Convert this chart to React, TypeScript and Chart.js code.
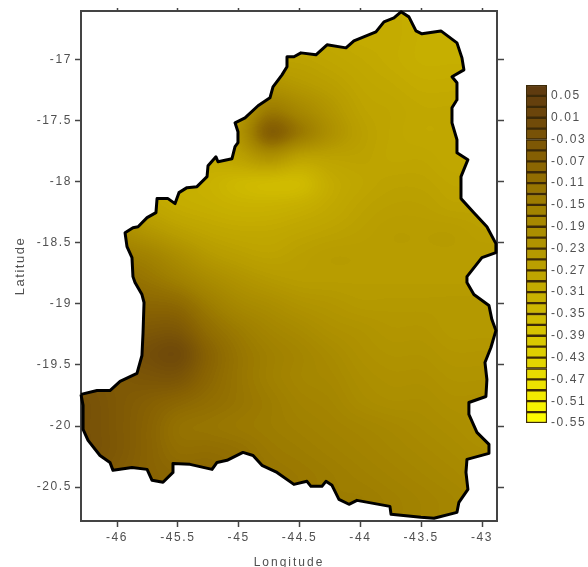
import React, { useEffect, useRef } from "react";
import { Chart, registerables } from "chart.js";

Chart.register(...registerables);

const lonTicks = [-46, -45.5, -45, -44.5, -44, -43.5, -43];
const latTicks = [-17, -17.5, -18, -18.5, -19, -19.5, -20, -20.5];
const legendTicks = [0.05, 0.01, -0.03, -0.07, -0.11, -0.15, -0.19, -0.23, -0.27, -0.31, -0.35, -0.39, -0.43, -0.47, -0.51, -0.55];
const legendEdges = [0.07, 0.05, 0.03, 0.01, -0.01, -0.03, -0.05, -0.07, -0.09, -0.11, -0.13, -0.15, -0.17, -0.19, -0.21, -0.23, -0.25, -0.27, -0.29, -0.31, -0.33, -0.35, -0.37, -0.39, -0.41, -0.43, -0.45, -0.47, -0.49, -0.51, -0.53, -0.55];

const boundaryLon = [-46.296, -46.164, -46.058, -45.975, -45.836, -45.795, -45.786, -45.778, -45.795, -45.852, -45.869, -45.877, -45.918, -45.934, -45.869, -45.827, -45.753, -45.68, -45.671, -45.581, -45.523, -45.491, -45.425, -45.343, -45.26, -45.252, -45.187, -45.17, -45.055, -45.03, -45.006, -45.006, -45.03, -44.948, -44.841, -44.743, -44.718, -44.644, -44.603, -44.603, -44.546, -44.488, -44.365, -44.274, -44.118, -44.053, -43.872, -43.806, -43.724, -43.666, -43.601, -43.543, -43.494, -43.338, -43.206, -43.165, -43.149, -43.247, -43.206, -43.206, -43.247, -43.247, -43.206, -43.206, -43.116, -43.173, -43.173, -43.067, -42.96, -42.886, -42.886, -43.001, -43.124, -43.124, -43.067, -42.943, -42.919, -42.886, -42.927, -42.976, -42.96, -42.968, -43.108, -43.108, -43.042, -42.943, -42.943, -43.124, -43.132, -43.116, -43.19, -43.206, -43.395, -43.502, -43.748, -43.757, -44.028, -44.094, -44.176, -44.233, -44.283, -44.316, -44.406, -44.439, -44.546, -44.685, -44.809, -44.882, -44.965, -45.096, -45.178, -45.219, -45.4, -45.54, -45.54, -45.622, -45.712, -45.753, -45.877, -46.033, -46.058, -46.14, -46.238, -46.279, -46.279, -46.296];
const boundaryLat = [-19.741, -19.709, -19.709, -19.635, -19.569, -19.422, -19.234, -18.988, -18.923, -18.825, -18.776, -18.62, -18.53, -18.416, -18.375, -18.367, -18.293, -18.252, -18.137, -18.137, -18.178, -18.088, -18.047, -18.039, -17.957, -17.867, -17.794, -17.835, -17.81, -17.712, -17.679, -17.589, -17.516, -17.475, -17.376, -17.311, -17.221, -17.123, -17.057, -16.975, -16.975, -16.943, -16.959, -16.877, -16.902, -16.845, -16.771, -16.689, -16.656, -16.607, -16.648, -16.763, -16.787, -16.763, -16.861, -16.984, -17.082, -17.139, -17.188, -17.327, -17.393, -17.516, -17.655, -17.761, -17.818, -17.957, -18.137, -18.252, -18.367, -18.506, -18.579, -18.62, -18.776, -18.825, -18.923, -19.013, -19.128, -19.218, -19.357, -19.479, -19.619, -19.758, -19.807, -19.905, -20.052, -20.15, -20.224, -20.273, -20.38, -20.519, -20.625, -20.707, -20.756, -20.748, -20.723, -20.658, -20.609, -20.641, -20.601, -20.486, -20.453, -20.494, -20.494, -20.453, -20.478, -20.38, -20.322, -20.241, -20.216, -20.281, -20.298, -20.355, -20.314, -20.306, -20.38, -20.461, -20.445, -20.355, -20.339, -20.363, -20.298, -20.241, -20.118, -20.028, -19.831, -19.741];

const fieldLon = [-46.25, -46, -45.75, -45.5, -45.25, -45, -44.75, -44.5, -44.25, -44, -43.75, -43.5, -43.25, -43, -42.75];
const fieldLat = [-16.6, -16.8, -17, -17.2, -17.4, -17.6, -17.8, -18, -18.2, -18.4, -18.6, -18.8, -19, -19.2, -19.4, -19.6, -19.8, -20, -20.2, -20.4, -20.6, -20.8];
const fieldValues = [
  [-0.3, -0.3, -0.3, -0.3, -0.3, -0.3, -0.29, -0.29, -0.29, -0.3, -0.3, -0.31, -0.31, -0.31, -0.31],
  [-0.3, -0.3, -0.3, -0.3, -0.3, -0.29, -0.29, -0.29, -0.29, -0.3, -0.3, -0.31, -0.31, -0.31, -0.31],
  [-0.3, -0.3, -0.3, -0.3, -0.29, -0.27, -0.27, -0.27, -0.28, -0.29, -0.3, -0.31, -0.31, -0.31, -0.31],
  [-0.3, -0.3, -0.3, -0.3, -0.28, -0.24, -0.22, -0.24, -0.26, -0.28, -0.29, -0.3, -0.3, -0.3, -0.3],
  [-0.3, -0.3, -0.3, -0.3, -0.28, -0.24, -0.14, -0.18, -0.23, -0.27, -0.28, -0.29, -0.29, -0.29, -0.29],
  [-0.3, -0.3, -0.3, -0.3, -0.28, -0.22, -0.06, -0.13, -0.21, -0.26, -0.28, -0.29, -0.29, -0.29, -0.29],
  [-0.3, -0.3, -0.3, -0.3, -0.3, -0.27, -0.22, -0.27, -0.27, -0.27, -0.28, -0.28, -0.29, -0.29, -0.29],
  [-0.3, -0.3, -0.3, -0.31, -0.32, -0.34, -0.35, -0.35, -0.3, -0.28, -0.27, -0.27, -0.28, -0.28, -0.28],
  [-0.27, -0.27, -0.28, -0.3, -0.31, -0.32, -0.32, -0.31, -0.29, -0.27, -0.26, -0.26, -0.27, -0.27, -0.27],
  [-0.2, -0.2, -0.23, -0.26, -0.28, -0.29, -0.29, -0.28, -0.27, -0.26, -0.25, -0.25, -0.25, -0.26, -0.26],
  [-0.14, -0.14, -0.16, -0.2, -0.24, -0.26, -0.27, -0.26, -0.25, -0.25, -0.25, -0.25, -0.25, -0.25, -0.25],
  [-0.1, -0.1, -0.12, -0.15, -0.19, -0.22, -0.24, -0.25, -0.25, -0.25, -0.25, -0.25, -0.25, -0.25, -0.25],
  [-0.08, -0.08, -0.08, -0.09, -0.14, -0.18, -0.2, -0.22, -0.23, -0.24, -0.24, -0.24, -0.24, -0.24, -0.24],
  [-0.05, -0.05, -0.04, -0.04, -0.1, -0.14, -0.17, -0.19, -0.21, -0.22, -0.23, -0.23, -0.24, -0.24, -0.24],
  [-0.04, -0.03, -0.01, 0, -0.07, -0.12, -0.15, -0.17, -0.19, -0.21, -0.22, -0.22, -0.23, -0.23, -0.23],
  [-0.03, -0.04, -0.03, -0.03, -0.08, -0.12, -0.15, -0.17, -0.18, -0.2, -0.21, -0.21, -0.22, -0.22, -0.22],
  [-0.02, -0.04, -0.06, -0.08, -0.1, -0.12, -0.14, -0.16, -0.17, -0.19, -0.2, -0.2, -0.21, -0.21, -0.21],
  [-0.02, -0.04, -0.07, -0.11, -0.12, -0.13, -0.14, -0.15, -0.16, -0.17, -0.18, -0.19, -0.2, -0.21, -0.21],
  [-0.02, -0.04, -0.07, -0.1, -0.1, -0.11, -0.13, -0.14, -0.15, -0.16, -0.17, -0.18, -0.19, -0.2, -0.2],
  [-0.03, -0.05, -0.07, -0.08, -0.08, -0.1, -0.12, -0.13, -0.14, -0.15, -0.16, -0.17, -0.18, -0.19, -0.19],
  [-0.03, -0.05, -0.07, -0.08, -0.08, -0.1, -0.12, -0.13, -0.14, -0.14, -0.15, -0.16, -0.17, -0.18, -0.18],
  [-0.03, -0.05, -0.07, -0.08, -0.08, -0.1, -0.12, -0.13, -0.14, -0.14, -0.15, -0.16, -0.17, -0.18, -0.18],
];

const colorStopValues = [0.07, 0.01, -0.07, -0.15, -0.23, -0.31, -0.39, -0.47, -0.55];
const colorStopRgb = [
  [92, 56, 16],
  [110, 72, 10],
  [136, 98, 2],
  [160, 128, 0],
  [178, 150, 0],
  [198, 174, 0],
  [216, 198, 0],
  [234, 222, 0],
  [255, 255, 0],
];

function colorFor(v: number): number[] {
  const n = colorStopValues.length;
  if (v >= colorStopValues[0]) return colorStopRgb[0];
  for (let i = 1; i < n; i++) {
    if (v >= colorStopValues[i]) {
      const t = (colorStopValues[i - 1] - v) / (colorStopValues[i - 1] - colorStopValues[i]);
      const a = colorStopRgb[i - 1];
      const b = colorStopRgb[i];
      return [a[0] + (b[0] - a[0]) * t, a[1] + (b[1] - a[1]) * t, a[2] + (b[2] - a[2]) * t];
    }
  }
  return colorStopRgb[n - 1];
}

function cubic(p0: number, p1: number, p2: number, p3: number, t: number) {
  return p1 + 0.5 * t * (p2 - p0 + t * (2 * p0 - 5 * p1 + 4 * p2 - p3 + t * (3 * (p1 - p2) + p3 - p0)));
}

function sampleField(lon: number, lat: number) {
  const fx = Math.max(0, Math.min(fieldLon.length - 1.001, (lon - fieldLon[0]) / (fieldLon[1] - fieldLon[0])));
  const fy = Math.max(0, Math.min(fieldLat.length - 1.001, (lat - fieldLat[0]) / (fieldLat[1] - fieldLat[0])));
  const ix = Math.floor(fx);
  const iy = Math.floor(fy);
  const cell = (r: number, c: number) =>
    fieldValues[Math.max(0, Math.min(fieldLat.length - 1, r))][Math.max(0, Math.min(fieldLon.length - 1, c))];
  const col: number[] = [];
  for (let k = -1; k <= 2; k++) {
    col.push(cubic(cell(iy + k, ix - 1), cell(iy + k, ix), cell(iy + k, ix + 1), cell(iy + k, ix + 2), fx - ix));
  }
  return cubic(col[0], col[1], col[2], col[3], fy - iy);
}

const fieldPlugin = {
  id: "field",
  beforeDatasetsDraw(chart: any) {
    const { ctx, chartArea, scales } = chart;
    const sx = scales.x;
    const sy = scales.y;
    const w = Math.ceil(chartArea.right - chartArea.left) + 4;
    const h = Math.ceil(chartArea.bottom - chartArea.top) + 4;
    const left = Math.floor(chartArea.left) - 2;
    const top = Math.floor(chartArea.top) - 2;
    const off = document.createElement("canvas");
    off.width = w;
    off.height = h;
    const octx = off.getContext("2d")!;
    const img = octx.createImageData(w, h);
    for (let j = 0; j < h; j++) {
      const lat = sy.getValueForPixel(top + j);
      for (let i = 0; i < w; i++) {
        const lon = sx.getValueForPixel(left + i);
        const v = Math.round(sampleField(lon, lat) / 0.006) * 0.006;
        const c = colorFor(v);
        const o = (j * w + i) * 4;
        img.data[o] = c[0];
        img.data[o + 1] = c[1];
        img.data[o + 2] = c[2];
        img.data[o + 3] = 255;
      }
    }
    octx.putImageData(img, 0, 0);
    ctx.save();
    ctx.beginPath();
    boundaryLon.forEach((lon, i) => {
      const px = sx.getPixelForValue(lon);
      const py = sy.getPixelForValue(boundaryLat[i]);
      if (i === 0) ctx.moveTo(px, py);
      else ctx.lineTo(px, py);
    });
    ctx.closePath();
    ctx.clip();
    ctx.drawImage(off, left, top);
    ctx.restore();
  },
};

const spacingPlugin = (spacing: string) => ({
  id: "spacing",
  beforeDraw(chart: any) {
    chart.ctx.letterSpacing = spacing;
  },
});

const INK = "#444444";
const TEXT = "#505050";
const fontFamily = "'Liberation Sans', Arial, sans-serif";

const setTicks = (values: number[]) => (axis: any) => {
  axis.ticks = values.map((value) => ({ value }));
};
const fit = (key: "width" | "height", size: number, titleSpacing?: string) => (axis: any) => {
  axis[key] = size;
  if (titleSpacing && !axis.__spaced) {
    axis.__spaced = true;
    const drawTitle = axis.drawTitle;
    axis.drawTitle = function (...args: any[]) {
      const c = this.ctx;
      const prev = c.letterSpacing;
      c.letterSpacing = titleSpacing;
      drawTitle.apply(this, args);
      c.letterSpacing = prev;
    };
  }
};

const lonRange = { min: -46.296, max: -42.877 };
const latRange = { min: -20.778, max: -16.6 };

export default function App() {
  const mapRef = useRef<HTMLCanvasElement>(null);
  const legendRef = useRef<HTMLCanvasElement>(null);

  useEffect(() => {
    const axisBase = {
      border: { display: true, color: INK, width: 2 },
    };
    const grid = (len: number) => ({
      display: true,
      drawOnChartArea: false,
      drawTicks: true,
      tickLength: len,
      tickColor: INK,
      tickWidth: 1.5,
    });
    const map = new Chart(mapRef.current!, {
      type: "scatter",
      data: {
        datasets: [
          {
            data: boundaryLon.map((x, i) => ({ x, y: boundaryLat[i] })),
            showLine: true,
            fill: false,
            borderColor: "#000000",
            borderWidth: 3,
            pointRadius: 0,
            tension: 0,
            clip: false,
            borderJoinStyle: "round",
          } as any,
        ],
      },
      options: {
        animation: false,
        responsive: false,
        layout: { padding: 0 },
        plugins: { legend: { display: false }, tooltip: { enabled: false } },
        scales: {
          x: {
            type: "linear",
            position: "bottom",
            ...lonRange,
            ...axisBase,
            grid: grid(6),
            afterBuildTicks: setTicks(lonTicks),
            afterFit: fit("height", 46, "2px"),
            ticks: {
              autoSkip: false,
              maxRotation: 0,
              padding: 3,
              color: TEXT,
              font: { family: fontFamily, size: 12 },
              callback: (v: any) => String(v),
            },
            title: {
              display: true,
              text: "Longitude",
              color: TEXT,
              font: { family: fontFamily, size: 12 },
              padding: { top: 0, bottom: -3 },
            },
          },
          y: {
            type: "linear",
            position: "left",
            ...latRange,
            ...axisBase,
            grid: grid(6),
            afterBuildTicks: setTicks(latTicks),
            afterFit: fit("width", 81, "1.5px"),
            ticks: {
              autoSkip: false,
              padding: 3,
              color: TEXT,
              font: { family: fontFamily, size: 12 },
              callback: (v: any) => String(v),
            },
            title: {
              display: true,
              text: "Latitude",
              color: TEXT,
              font: { family: fontFamily, size: 13 },
              padding: { top: 13, bottom: 0 },
            },
          },
          xTop: {
            type: "linear",
            position: "top",
            ...lonRange,
            ...axisBase,
            grid: grid(3),
            afterBuildTicks: setTicks(lonTicks),
            afterFit: fit("height", 11),
            ticks: { display: false },
          },
          yRight: {
            type: "linear",
            position: "right",
            ...latRange,
            ...axisBase,
            grid: grid(7),
            afterBuildTicks: setTicks(latTicks),
            afterFit: fit("width", 91),
            ticks: { display: false },
          },
        },
      } as any,
      plugins: [spacingPlugin("1.6px"), fieldPlugin],
    });

    const legend = new Chart(legendRef.current!, {
      type: "bar",
      data: {
        labels: [""],
        datasets: legendEdges.slice(1).map((lo, i) => {
          const c = colorFor((lo + legendEdges[i]) / 2);
          return {
            data: [[lo, legendEdges[i]]],
            backgroundColor: `rgb(${c[0]},${c[1]},${c[2]})`,
            borderColor: "#3c2a08",
            borderWidth: 1.5,
            borderSkipped: false,
            grouped: false,
            barPercentage: 1,
            categoryPercentage: 1,
          };
        }) as any,
      },
      options: {
        animation: false,
        responsive: false,
        layout: { padding: { left: 26, top: 15, bottom: 17, right: 0 } },
        plugins: { legend: { display: false }, tooltip: { enabled: false } },
        scales: {
          x: { display: false, type: "category" },
          y: {
            type: "linear",
            position: "right",
            min: -0.55,
            max: 0.07,
            grid: { display: false, drawTicks: false, tickLength: 0 },
            border: { display: false },
            afterBuildTicks: setTicks(legendTicks),
            afterFit: fit("width", 41),
            ticks: {
              autoSkip: false,
              padding: 4,
              color: TEXT,
              font: { family: fontFamily, size: 12 },
              callback: (v: any) => Number(v).toFixed(2),
            },
          },
        },
      } as any,
      plugins: [spacingPlugin("1.6px")],
    });

    return () => {
      map.destroy();
      legend.destroy();
    };
  }, []);

  return (
    <div style={{ position: "absolute", left: 0, top: 0, width: 588, height: 567, background: "#ffffff", overflow: "hidden" }}>
      <canvas ref={mapRef} width={588} height={567} style={{ position: "absolute", left: 0, top: 0, display: "block" }} />
      <canvas ref={legendRef} width={88} height={370} style={{ position: "absolute", left: 500, top: 70, display: "block" }} />
    </div>
  );
}
